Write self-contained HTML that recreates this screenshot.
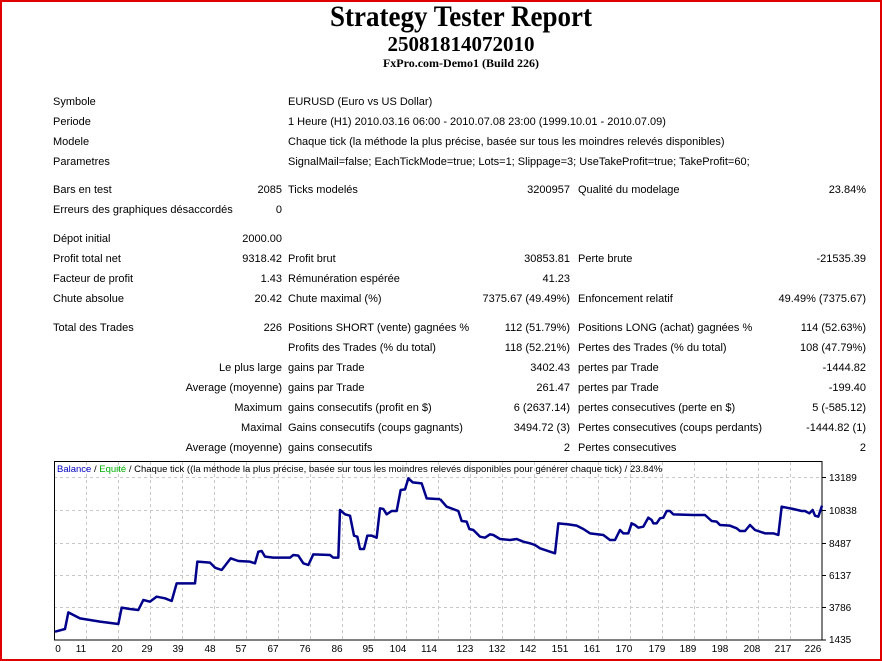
<!DOCTYPE html>
<html><head><meta charset="utf-8"><style>
html,body{margin:0;padding:0}
body{width:882px;height:661px;position:relative;overflow:hidden;background:#fff;font-family:"Liberation Sans",Tahoma,sans-serif;font-size:11px;color:#000}
.frame{position:absolute;left:0;top:0;width:878px;height:657px;border:2px solid #e00000}
.t{position:absolute;white-space:nowrap;line-height:13px;margin-top:1px}
.r{text-align:right}
h1,h2,h3{position:absolute;left:20px;width:882px;text-align:center;margin:0;font-family:"Liberation Serif",serif;font-weight:bold}
</style></head><body>
<div class="frame"></div>
<h1 style="top:1px;font-size:27px;line-height:30px;transform:scaleY(1.1)">Strategy Tester Report</h1>
<h2 style="top:32px;font-size:21px;line-height:24px">25081814072010</h2>
<h3 style="top:56px;font-size:12px;line-height:14px">FxPro.com-Demo1 (Build 226)</h3>

<div class="t" style="left:53px;top:95px">Symbole</div>
<div class="t" style="left:288px;top:95px">EURUSD (Euro vs US Dollar)</div>
<div class="t" style="left:53px;top:115px">Periode</div>
<div class="t" style="left:288px;top:115px">1 Heure (H1) 2010.03.16 06:00 - 2010.07.08 23:00 (1999.10.01 - 2010.07.09)</div>
<div class="t" style="left:53px;top:135px">Modele</div>
<div class="t" style="left:288px;top:135px">Chaque tick (la méthode la plus précise, basée sur tous les moindres relevés disponibles)</div>
<div class="t" style="left:53px;top:155px">Parametres</div>
<div class="t" style="left:288px;top:155px">SignalMail=false; EachTickMode=true; Lots=1; Slippage=3; UseTakeProfit=true; TakeProfit=60;</div>

<div class="t" style="left:53px;top:183px">Bars en test</div>
<div class="t r" style="right:600px;top:183px">2085</div>
<div class="t" style="left:288px;top:183px">Ticks modelés</div>
<div class="t r" style="right:312px;top:183px">3200957</div>
<div class="t" style="left:578px;top:183px">Qualité du modelage</div>
<div class="t r" style="right:16px;top:183px">23.84%</div>
<div class="t" style="left:53px;top:203px">Erreurs des graphiques désaccordés</div>
<div class="t r" style="right:600px;top:203px">0</div>

<div class="t" style="left:53px;top:232px">Dépot initial</div>
<div class="t r" style="right:600px;top:232px">2000.00</div>
<div class="t" style="left:53px;top:252px">Profit total net</div>
<div class="t r" style="right:600px;top:252px">9318.42</div>
<div class="t" style="left:288px;top:252px">Profit brut</div>
<div class="t r" style="right:312px;top:252px">30853.81</div>
<div class="t" style="left:578px;top:252px">Perte brute</div>
<div class="t r" style="right:16px;top:252px">-21535.39</div>
<div class="t" style="left:53px;top:272px">Facteur de profit</div>
<div class="t r" style="right:600px;top:272px">1.43</div>
<div class="t" style="left:288px;top:272px">Rémunération espérée</div>
<div class="t r" style="right:312px;top:272px">41.23</div>
<div class="t" style="left:53px;top:292px">Chute absolue</div>
<div class="t r" style="right:600px;top:292px">20.42</div>
<div class="t" style="left:288px;top:292px">Chute maximal (%)</div>
<div class="t r" style="right:312px;top:292px">7375.67 (49.49%)</div>
<div class="t" style="left:578px;top:292px">Enfoncement relatif</div>
<div class="t r" style="right:16px;top:292px">49.49% (7375.67)</div>

<div class="t" style="left:53px;top:321px">Total des Trades</div>
<div class="t r" style="right:600px;top:321px">226</div>
<div class="t" style="left:288px;top:321px">Positions SHORT (vente) gagnées %</div>
<div class="t r" style="right:312px;top:321px">112 (51.79%)</div>
<div class="t" style="left:578px;top:321px">Positions LONG (achat) gagnées %</div>
<div class="t r" style="right:16px;top:321px">114 (52.63%)</div>
<div class="t" style="left:288px;top:341px">Profits des Trades (% du total)</div>
<div class="t r" style="right:312px;top:341px">118 (52.21%)</div>
<div class="t" style="left:578px;top:341px">Pertes des Trades (% du total)</div>
<div class="t r" style="right:16px;top:341px">108 (47.79%)</div>

<div class="t r" style="right:600px;top:361px">Le plus large</div>
<div class="t" style="left:288px;top:361px">gains par Trade</div>
<div class="t r" style="right:312px;top:361px">3402.43</div>
<div class="t" style="left:578px;top:361px">pertes par Trade</div>
<div class="t r" style="right:16px;top:361px">-1444.82</div>
<div class="t r" style="right:600px;top:381px">Average (moyenne)</div>
<div class="t" style="left:288px;top:381px">gains par Trade</div>
<div class="t r" style="right:312px;top:381px">261.47</div>
<div class="t" style="left:578px;top:381px">pertes par Trade</div>
<div class="t r" style="right:16px;top:381px">-199.40</div>
<div class="t r" style="right:600px;top:401px">Maximum</div>
<div class="t" style="left:288px;top:401px">gains consecutifs (profit en $)</div>
<div class="t r" style="right:312px;top:401px">6 (2637.14)</div>
<div class="t" style="left:578px;top:401px">pertes consecutives (perte en $)</div>
<div class="t r" style="right:16px;top:401px">5 (-585.12)</div>
<div class="t r" style="right:600px;top:421px">Maximal</div>
<div class="t" style="left:288px;top:421px">Gains consecutifs (coups gagnants)</div>
<div class="t r" style="right:312px;top:421px">3494.72 (3)</div>
<div class="t" style="left:578px;top:421px">Pertes consecutives (coups perdants)</div>
<div class="t r" style="right:16px;top:421px">-1444.82 (1)</div>
<div class="t r" style="right:600px;top:441px">Average (moyenne)</div>
<div class="t" style="left:288px;top:441px">gains consecutifs</div>
<div class="t r" style="right:312px;top:441px">2</div>
<div class="t" style="left:578px;top:441px">Pertes consecutives</div>
<div class="t r" style="right:16px;top:441px">2</div>

<svg style="position:absolute;left:0;top:0" width="882" height="661" font-family="Liberation Sans, Tahoma, sans-serif" font-size="9.5">
<g stroke="#c8c8c8" stroke-dasharray="3,3" stroke-width="1">
<line x1="54" y1="477.5" x2="822" y2="477.5"/><line x1="54" y1="510.5" x2="822" y2="510.5"/>
<line x1="54" y1="543.5" x2="822" y2="543.5"/><line x1="54" y1="575.5" x2="822" y2="575.5"/>
<line x1="54" y1="607.5" x2="822" y2="607.5"/>
<line x1="86.5" y1="462" x2="86.5" y2="640"/><line x1="118.5" y1="462" x2="118.5" y2="640"/>
<line x1="150.5" y1="462" x2="150.5" y2="640"/><line x1="182.5" y1="462" x2="182.5" y2="640"/>
<line x1="214.5" y1="462" x2="214.5" y2="640"/><line x1="246.5" y1="462" x2="246.5" y2="640"/>
<line x1="278.5" y1="462" x2="278.5" y2="640"/><line x1="310.5" y1="462" x2="310.5" y2="640"/>
<line x1="342.5" y1="462" x2="342.5" y2="640"/><line x1="374.5" y1="462" x2="374.5" y2="640"/>
<line x1="406.5" y1="462" x2="406.5" y2="640"/><line x1="438.5" y1="462" x2="438.5" y2="640"/>
<line x1="470.5" y1="462" x2="470.5" y2="640"/><line x1="502.5" y1="462" x2="502.5" y2="640"/>
<line x1="534.5" y1="462" x2="534.5" y2="640"/><line x1="566.5" y1="462" x2="566.5" y2="640"/>
<line x1="598.5" y1="462" x2="598.5" y2="640"/><line x1="630.5" y1="462" x2="630.5" y2="640"/>
<line x1="662.5" y1="462" x2="662.5" y2="640"/><line x1="694.5" y1="462" x2="694.5" y2="640"/>
<line x1="726.5" y1="462" x2="726.5" y2="640"/><line x1="758.5" y1="462" x2="758.5" y2="640"/>
<line x1="790.5" y1="462" x2="790.5" y2="640"/>
</g>
<rect x="54.5" y="461.5" width="767.5" height="178.5" fill="none" stroke="#000" stroke-width="1"/>
<g stroke="#000"><line x1="822" y1="477.5" x2="826" y2="477.5"/><line x1="822" y1="510.5" x2="826" y2="510.5"/><line x1="822" y1="543.5" x2="826" y2="543.5"/><line x1="822" y1="575.5" x2="826" y2="575.5"/><line x1="822" y1="607.5" x2="826" y2="607.5"/><line x1="822" y1="640" x2="826" y2="640"/></g>
<g font-size="10">
<text x="829" y="481">13189</text><text x="829" y="514">10838</text><text x="829" y="547">8487</text><text x="829" y="579">6137</text><text x="829" y="611">3786</text><text x="829" y="643">1435</text>
</g>
<g font-size="10" text-anchor="middle">
<text x="58" y="652">0</text><text x="81" y="652">11</text><text x="117" y="652">20</text><text x="147" y="652">29</text><text x="178" y="652">39</text><text x="210" y="652">48</text><text x="241" y="652">57</text><text x="273" y="652">67</text><text x="305" y="652">76</text><text x="337" y="652">86</text><text x="368" y="652">95</text><text x="398" y="652">104</text><text x="429" y="652">114</text><text x="465" y="652">123</text><text x="497" y="652">132</text><text x="528" y="652">142</text><text x="560" y="652">151</text><text x="592" y="652">161</text><text x="624" y="652">170</text><text x="657" y="652">179</text><text x="688" y="652">189</text><text x="720" y="652">198</text><text x="752" y="652">208</text><text x="783" y="652">217</text><text x="813" y="652">226</text>
</g>
<text x="57" y="472" font-size="9.5"><tspan fill="#0000c0">Balance</tspan> / <tspan fill="#00b000">Equité</tspan> / Chaque tick ((la méthode la plus précise, basée sur tous les moindres relevés disponibles pour générer chaque tick) / 23.84%</text>
<g transform="translate(40,455) scale(0.33333)" fill="none" stroke="#00008b" stroke-width="7.5" stroke-linejoin="round">
<polyline points="45,530 75,522 85,472 120,490 150,495 180,500 235,507 245,458 270,462 295,465 310,435 330,440 350,425 375,430 395,438 410,385 465,385 472,320 510,323 525,338 545,345 572,310 595,318 630,320 645,325 655,290 665,288 675,305 700,308 750,308 760,300 775,302 790,325 805,330 820,298 870,300 880,308 895,308 900,165 915,178 930,182 942,242 952,245 960,282 972,282 982,242 995,242 1010,248 1020,160 1030,162 1040,178 1055,168 1070,168 1082,105 1095,103 1105,70 1118,82 1145,85 1160,130 1190,132 1200,132"/>
</g>
<g transform="translate(440,455) scale(0.33333)" fill="none" stroke="#00008b" stroke-width="7.5" stroke-linejoin="round">
<polyline points="0,132 20,155 55,168 65,198 80,200 88,222 100,225 120,245 135,248 150,238 160,240 180,252 210,255 230,252 250,260 270,265 285,270 300,280 330,290 345,295 355,205 385,208 410,212 430,222 450,235 490,240 510,255 525,255 540,225 550,235 565,235 575,205 585,210 595,218 610,215 625,188 635,195 640,205 650,205 660,190 670,188 680,168 690,168 700,178 760,180 795,180 815,198 830,200 840,210 870,212 890,220 900,228 915,228 930,210 945,225 975,235 1000,235 1015,240 1025,155 1060,162 1085,168 1095,168 1108,175 1118,165 1125,182 1135,185 1146,152"/>
</g>
</svg>
</body></html>
